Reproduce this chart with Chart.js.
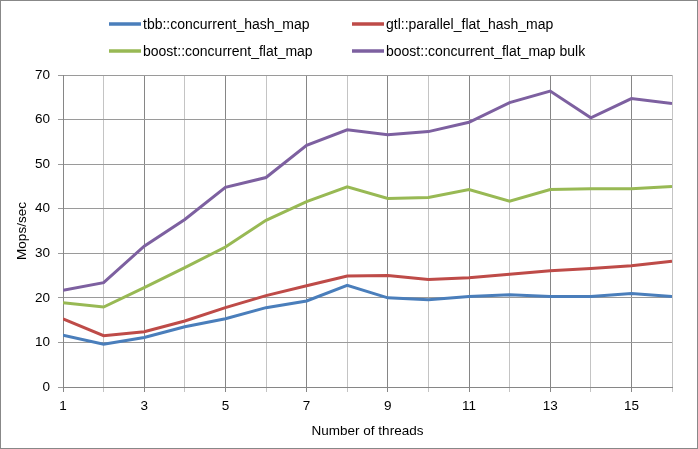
<!DOCTYPE html>
<html>
<head>
<meta charset="utf-8">
<script src="https://cdn.jsdelivr.net/npm/chart.js@4"></script>
<style>
  html, body { margin: 0; padding: 0; background: #fff; }
  #wrap { position: relative; width: 698px; height: 449px; box-sizing: border-box; border: 1px solid #888; }
</style>
</head>
<body>
<div id="wrap"><canvas id="chart"></canvas></div>
<script>
// Mops/sec vs number of threads, four concurrent map implementations
const threads = [1, 2, 3, 4, 5, 6, 7, 8, 9, 10, 11, 12, 13, 14, 15, 16];

const tbbHashMap     = [11.6, 9.6, 11.1, 13.5, 15.3, 17.8, 19.3, 22.8, 20.0, 19.6, 20.3, 20.7, 20.3, 20.3, 21.0, 20.3];
const gtlParallel    = [15.3, 11.5, 12.4, 14.8, 17.8, 20.5, 22.7, 24.9, 25.0, 24.1, 24.5, 25.3, 26.1, 26.6, 27.2, 28.2];
const boostFlat      = [18.9, 17.95, 22.3, 26.8, 31.4, 37.4, 41.6, 44.9, 42.3, 42.5, 44.3, 41.7, 44.3, 44.5, 44.5, 45.0];
const boostFlatBulk  = [21.7, 23.4, 31.6, 37.6, 44.8, 47.0, 54.2, 57.7, 56.6, 57.3, 59.4, 63.8, 66.4, 60.4, 64.7, 63.6];

const seriesNames = [
  'tbb::concurrent_hash_map',
  'gtl::parallel_flat_hash_map',
  'boost::concurrent_flat_map',
  'boost::concurrent_flat_map bulk'
];
const seriesColors = ['#4a7ebb', '#be4b48', '#98b954', '#7d60a0'];
const seriesValues = [tbbHashMap, gtlParallel, boostFlat, boostFlatBulk];

const FONT = '"Liberation Sans", Arial, sans-serif';

const datasets = seriesValues.map(function (vals, i) {
  return {
    label: seriesNames[i],
    data: threads.map(function (t, j) { return { x: t, y: vals[j] }; }),
    borderColor: seriesColors[i],
    backgroundColor: seriesColors[i],
    borderWidth: 3,
    pointRadius: 0,
    tension: 0
  };
});

// Two-column legend like the spreadsheet original
const gridLegend = {
  id: 'gridLegend',
  afterDraw(chart) {
    const ctx = chart.ctx;
    const cols = [108, 351];
    const rows = [23, 50];
    ctx.save();
    ctx.font = '14px ' + FONT;
    ctx.textBaseline = 'middle';
    chart.data.datasets.forEach(function (ds, i) {
      const x = cols[i % 2], y = rows[Math.floor(i / 2)];
      ctx.strokeStyle = ds.borderColor;
      ctx.lineWidth = 3.5;
      ctx.beginPath();
      ctx.moveTo(x, y);
      ctx.lineTo(x + 32, y);
      ctx.stroke();
      ctx.fillStyle = '#000';
      ctx.fillText(ds.label, x + 34, y + 1);
    });
    ctx.restore();
  }
};

new Chart(document.getElementById('chart'), {
  type: 'line',
  data: { datasets: datasets },
  options: {
    responsive: true,
    maintainAspectRatio: false,
    animation: false,
    layout: { padding: { left: 0, right: 25, top: 74, bottom: 0 } },
    plugins: { legend: { display: false }, tooltip: { enabled: false } },
    scales: {
      x: {
        type: 'linear',
        min: 1, max: 16,
        afterFit: function (s) { s.height = 61; },
        border: { color: '#868686' },
        grid: {
          tickLength: 5,
          color: function (c) { return (c.tick && c.tick.value % 2 === 1) ? '#868686' : '#c4c4c4'; }
        },
        ticks: {
          stepSize: 1, autoSkip: false, maxRotation: 0, padding: 6,
          color: '#000', font: { family: FONT, size: 13.5 },
          callback: function (v) { return v % 2 === 1 ? String(v) : ''; }
        },
        title: {
          display: true, text: 'Number of threads', color: '#000',
          font: { family: FONT, size: 13.5 }, padding: { top: 0, bottom: 9 }
        }
      },
      y: {
        min: 0, max: 70,
        afterFit: function (s) { s.width = 62; },
        border: { color: '#868686' },
        grid: { tickLength: 5, color: '#9a9a9a' },
        ticks: {
          stepSize: 10, padding: 8,
          color: '#000', font: { family: FONT, size: 13.5 }
        },
        title: {
          display: true, text: 'Mops/sec', color: '#000',
          font: { family: FONT, size: 13.5 }, padding: { top: 13, bottom: 0 }
        }
      }
    }
  },
  plugins: [gridLegend]
});
</script>
</body>
</html>
